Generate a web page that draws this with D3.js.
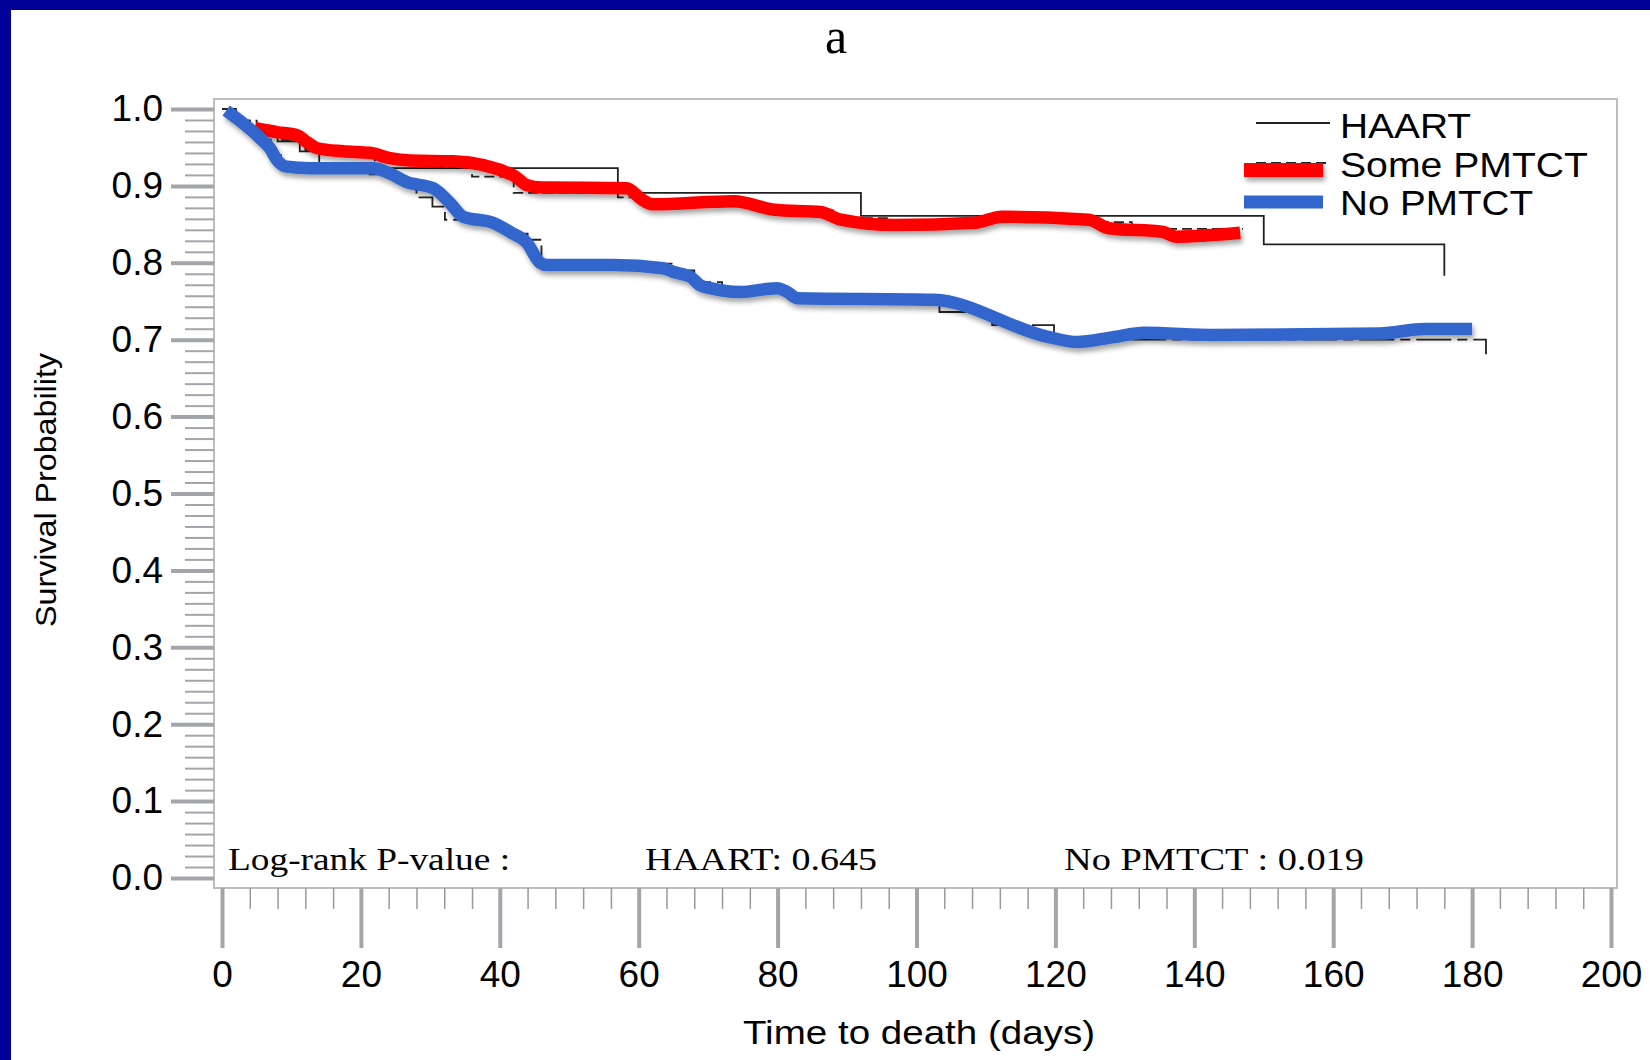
<!DOCTYPE html>
<html>
<head>
<meta charset="utf-8">
<script src="https://cdn.jsdelivr.net/npm/d3@7"></script>
<style>
  body { margin: 0; background: #fff; }
  svg { display: block; }
</style>
</head>
<body>
<svg id="chart" width="1650" height="1060"></svg>
<script>
// Kaplan-Meier steps (thin black), days / survival
const haartT = [0, 2, 4, 8, 11.2, 14, 57, 92, 150, 176]
const haartS = [1.0, 0.985, 0.97, 0.958, 0.945, 0.923, 0.891, 0.861, 0.824, 0.783]

const someT = [0, 2, 5, 8, 12, 15, 22, 30, 36, 42, 57, 61, 78, 88, 96, 131, 147]
const someS = [1.0, 0.985, 0.972, 0.96, 0.947, 0.94, 0.932, 0.925, 0.912, 0.891, 0.885, 0.876, 0.868, 0.858, 0.853, 0.844, 0.844]

const noT = [0, 1.5, 3, 5, 7, 8.5, 21, 25, 28, 30.3, 32.1, 38, 41, 44, 46, 65, 68, 72, 81.8, 103.3, 110.9, 119.8, 182]
const noS = [1.0, 0.99, 0.975, 0.96, 0.94, 0.925, 0.915, 0.905, 0.885, 0.873, 0.856, 0.848, 0.838, 0.83, 0.799, 0.79, 0.775, 0.766, 0.752, 0.736, 0.719, 0.70, 0.681]

// thick hand-traced overlays
const redT = [4.75, 7.9, 10.8, 12.2, 13.7, 17.4, 21.3, 24.2, 27.1, 33.3, 41.9, 43.9, 46, 58.3, 60.2, 62, 73.7, 79.5, 86.2, 89.1, 96.9, 108.4, 112.3, 124.8, 127.7, 135.5, 137.4, 146.6]
const redS = [0.975, 0.970, 0.966, 0.957, 0.949, 0.945, 0.943, 0.936, 0.933, 0.932, 0.914, 0.901, 0.898, 0.897, 0.884, 0.876, 0.880, 0.869, 0.866, 0.856, 0.849, 0.852, 0.860, 0.856, 0.845, 0.840, 0.834, 0.839]

const blueT = [0.6, 5.5, 6.9, 7.9, 9.3, 12.7, 21.8, 24.2, 26.6, 30.4, 32.8, 34.7, 39, 41.5, 43.9, 45.8, 46.8, 56.3, 63.5, 65, 67.4, 68.8, 70.3, 74.6, 79.9, 81.4, 82.8, 102.4, 118.8, 123.1, 128.2, 132.8, 143, 166.7, 173.2, 180]
const blueS = [0.998, 0.962, 0.949, 0.934, 0.925, 0.923, 0.923, 0.916, 0.905, 0.897, 0.878, 0.860, 0.852, 0.840, 0.826, 0.800, 0.797, 0.797, 0.793, 0.788, 0.782, 0.771, 0.767, 0.762, 0.767, 0.762, 0.754, 0.752, 0.704, 0.697, 0.703, 0.709, 0.706, 0.708, 0.714, 0.714]

const legendLabels = ['HAART', 'Some PMTCT', 'No PMTCT']
const pLabels = ['Log-rank P-value :', 'HAART: 0.645', 'No PMTCT : 0.019']
const xTicks = [0, 20, 40, 60, 80, 100, 120, 140, 160, 180, 200]
const yTicks = [0, 0.1, 0.2, 0.3, 0.4, 0.5, 0.6, 0.7, 0.8, 0.9, 1.0]

const sans = "'Liberation Sans', Arial, sans-serif"
const serif = "'Liberation Serif', 'Times New Roman', serif"
const tickGrey = '#a2a6aa'

const svg = d3.select('#chart')

svg.append('rect').attr('width', 1650).attr('height', 1060).attr('fill', '#fff')
svg.append('rect').attr('width', 1650).attr('height', 10).attr('fill', '#000099')
svg.append('rect').attr('width', 11).attr('height', 1060).attr('fill', '#000099')

// soft drop shadow under the thick lines (user space so flat lines work too)
const defs = svg.append('defs')
defs.append('filter').attr('id', 'shadow')
    .attr('filterUnits', 'userSpaceOnUse')
    .attr('x', 0).attr('y', 0).attr('width', 1650).attr('height', 1060)
    .append('feDropShadow')
    .attr('dx', 2).attr('dy', 4).attr('stdDeviation', 2.5)
    .attr('flood-color', '#000').attr('flood-opacity', 0.35)

const x = d3.scaleLinear().domain([0, 200]).range([222, 1611])
const y = d3.scaleLinear().domain([0, 1]).range([878, 109])

// plot frame
svg.append('rect')
    .attr('x', 214).attr('y', 99).attr('width', 1403).attr('height', 789)
    .attr('fill', 'none').attr('stroke', '#bdbdbd').attr('stroke-width', 2)

// y axis: 6 minor ticks between majors
const yMinor = d3.range(0, 71).filter(i => i % 7 !== 0).map(i => i / 70)
svg.append('g').attr('transform', 'translate(214,0)')
    .call(d3.axisLeft(y).tickValues(yMinor).tickSize(29).tickFormat(''))
    .call(g => g.select('.domain').remove())
    .selectAll('line').attr('stroke', tickGrey).attr('stroke-width', 2)

const yAxis = svg.append('g').attr('transform', 'translate(214,0)')
    .call(d3.axisLeft(y).tickValues(yTicks).tickSize(43).tickPadding(8).tickFormat(d3.format('.1f')))
    .call(g => g.select('.domain').remove())
yAxis.selectAll('line').attr('stroke', tickGrey).attr('stroke-width', 4)
yAxis.selectAll('text').attr('font-family', sans).attr('font-size', 37).attr('fill', '#000')

// x axis: minor every 4 days
const xMinor = d3.range(0, 201, 4).filter(d => d % 20 !== 0)
svg.append('g').attr('transform', 'translate(0,888)')
    .call(d3.axisBottom(x).tickValues(xMinor).tickSize(21).tickFormat(''))
    .call(g => g.select('.domain').remove())
    .selectAll('line').attr('stroke', '#999').attr('stroke-width', 1.5)

const xAxis = svg.append('g').attr('transform', 'translate(0,888)')
    .call(d3.axisBottom(x).tickValues(xTicks).tickSize(60).tickPadding(13))
    .call(g => g.select('.domain').remove())
xAxis.selectAll('line').attr('stroke', tickGrey).attr('stroke-width', 4)
xAxis.selectAll('text').attr('font-family', sans).attr('font-size', 37).attr('fill', '#000')

// axis titles
svg.append('text')
    .attr('transform', 'translate(56,490) rotate(-90)')
    .attr('text-anchor', 'middle')
    .attr('font-family', sans).attr('font-size', 29)
    .attr('textLength', 274).attr('lengthAdjust', 'spacingAndGlyphs')
    .text('Survival Probability')

svg.append('text')
    .attr('x', 919).attr('y', 1044)
    .attr('text-anchor', 'middle')
    .attr('font-family', sans).attr('font-size', 33)
    .attr('textLength', 352).attr('lengthAdjust', 'spacingAndGlyphs')
    .text('Time to death (days)')

svg.append('text')
    .attr('x', 836).attr('y', 53)
    .attr('text-anchor', 'middle')
    .attr('font-family', serif).attr('font-size', 50)
    .text('a')

// black KM steps
const step = d3.line().x(d => x(d[0])).y(d => y(d[1])).curve(d3.curveStepAfter)
const steps = [
    { data: d3.zip(haartT, haartS), dash: null },
    { data: d3.zip(someT, someS), dash: '10,5' },
    { data: d3.zip(noT, noS), dash: '35,6,10,6' },
]
steps.forEach(s => {
    svg.append('path')
        .attr('d', step(s.data))
        .attr('fill', 'none').attr('stroke', '#222').attr('stroke-width', 1.8)
        .attr('stroke-dasharray', s.dash)
})

// thick coloured overlays
const smooth = d3.line().x(d => x(d[0])).y(d => y(d[1])).curve(d3.curveMonotoneX)
const overlays = [
    { data: d3.zip(redT, redS), color: '#ff0000' },
    { data: d3.zip(blueT, blueS), color: '#3366cc' },
]
overlays.forEach(o => {
    svg.append('path')
        .attr('d', smooth(o.data))
        .attr('fill', 'none').attr('stroke', o.color).attr('stroke-width', 12.5)
        .attr('stroke-linejoin', 'round').attr('stroke-linecap', 'butt')
        .attr('filter', 'url(#shadow)')
})

// legend
const leg = svg.append('g')
leg.append('line').attr('x1', 1256).attr('x2', 1330).attr('y1', 123).attr('y2', 123)
    .attr('stroke', '#222').attr('stroke-width', 1.8)
leg.append('line').attr('x1', 1256).attr('x2', 1330).attr('y1', 163).attr('y2', 163)
    .attr('stroke', '#222').attr('stroke-width', 1.8).attr('stroke-dasharray', '10,5')
leg.append('line').attr('x1', 1244).attr('x2', 1323).attr('y1', 170).attr('y2', 170)
    .attr('stroke', '#ff0000').attr('stroke-width', 14).attr('filter', 'url(#shadow)')
leg.append('line').attr('x1', 1244).attr('x2', 1323).attr('y1', 202).attr('y2', 202)
    .attr('stroke', '#3366cc').attr('stroke-width', 13)

const legY = [138, 177, 215]
const legW = [131, 248, 193]
leg.selectAll('text.lg').data(legendLabels).enter().append('text')
    .attr('class', 'lg')
    .attr('x', 1340).attr('y', (d, i) => legY[i])
    .attr('font-family', sans).attr('font-size', 35)
    .attr('textLength', (d, i) => legW[i]).attr('lengthAdjust', 'spacingAndGlyphs')
    .text(d => d)

// log-rank p-values
const pX = [228, 645, 1064]
const pW = [282, 232, 300]
svg.selectAll('text.pv').data(pLabels).enter().append('text')
    .attr('class', 'pv')
    .attr('x', (d, i) => pX[i]).attr('y', 870)
    .attr('font-family', serif).attr('font-size', 32)
    .attr('textLength', (d, i) => pW[i]).attr('lengthAdjust', 'spacingAndGlyphs')
    .text(d => d)
</script>
</body>
</html>
